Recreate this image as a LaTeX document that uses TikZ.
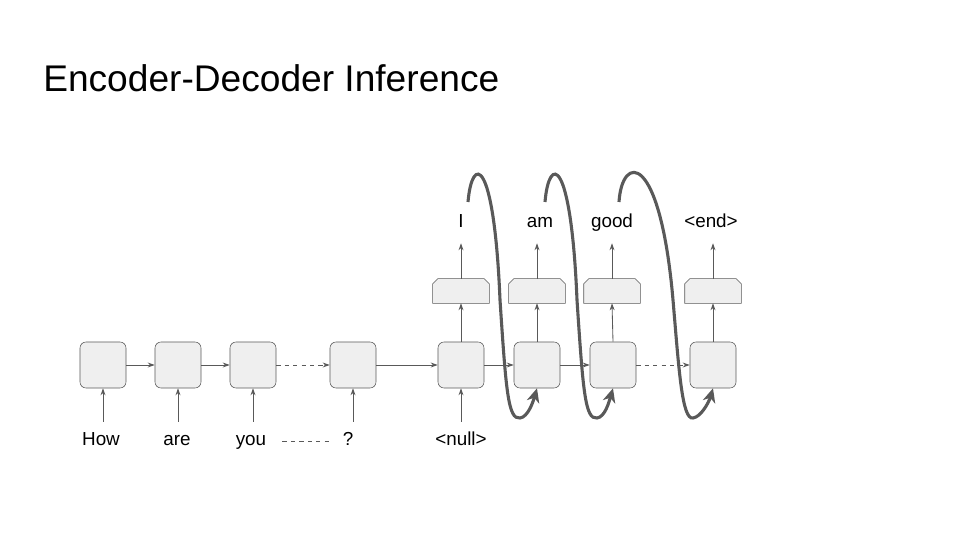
\documentclass[tikz,border=0pt]{standalone}
\usepackage{fontspec}
\setmainfont{Liberation Sans}
\usetikzlibrary{arrows.meta,calc}
\definecolor{cellfill}{HTML}{EFEFEF}
\definecolor{linegray}{HTML}{595959}

\begin{document}
\begin{tikzpicture}[x=0.025cm,y=0.025cm,
  cell/.style={draw=linegray,fill=cellfill,rounded corners=0.15cm,minimum size=1.15cm,inner sep=0pt},
  outbox/.style={minimum width=1.4cm,minimum height=0.6cm,inner sep=0pt},
  word/.style={font=\fontsize{13.4pt}{15pt}\selectfont,anchor=base,text height=0.35cm,text depth=0.15cm,inner xsep=0.1cm,inner ysep=0.225cm},
  flow/.style={draw=linegray,line width=0.6pt,-{Stealth[length=5pt,width=3.5pt]}},
  feedback/.style={draw=linegray,line width=2.2pt,-{Stealth[length=10pt,width=9pt,inset=3pt]}}]
%
\useasboundingbox (0,0) rectangle (960,540);
\node[anchor=base west,inner sep=0pt,font=\fontsize{26.4pt}{30pt}\selectfont] (title) at (43,448) {Encoder-Decoder Inference};
%
% encoder
  \node[cell] (enc1) at (103,175) {};
  \node[cell] (enc2) at (178,175) {};
  \node[cell] (enc3) at (253,175) {};
  \node[cell] (enc4) at (353,175) {};
  \node[word] (how) at (101,95) {How};
  \node[word] (are) at (177,95) {are};
  \node[word] (you) at (251,95) {you};
  \node[word] (qm)  at (348,95) {?};
%
% decoder
  \node[cell] (dec1) at (461,175) {};
  \node[cell] (dec2) at (537,175) {};
  \node[cell] (dec3) at (613,175) {};
  \node[cell] (dec4) at (713,175) {};
  \node[word] (null) at (461,95) {<null>};
  \node[outbox] (out1) at (461,249) {};
  \node[outbox] (out2) at (537,249) {};
  \node[outbox] (out3) at (612,249) {};
  \node[outbox] (out4) at (713,249) {};
  \foreach \i in {1,...,4}
    \draw[draw=linegray,fill=cellfill] (out\i.south west) -- ($(out\i.north west)+(0,-5)$) -- ($(out\i.north west)+(5,0)$)
      -- ($(out\i.north east)+(-5,0)$) -- ($(out\i.north east)+(0,-5)$) -- (out\i.south east) -- cycle;
  \node[word] (w1) at (461,312) {I};
  \node[word] (w2) at (540,312) {am};
  \node[word] (w3) at (612,312) {good};
  \node[word] (w4) at (711,312) {<end>};
%
  \foreach \a/\b in {how/enc1,are/enc2,you/enc3,qm/enc4,null/dec1}
    \draw[flow] (\a.north -| \b.south) -- (\b.south);
  \foreach \a/\b in {enc1/enc2,enc2/enc3,enc4/dec1,dec1/dec2,dec2/dec3}
    \draw[flow] (\a.east) -- (\b.west);
  \foreach \a/\b in {enc3/enc4,dec3/dec4}
    \draw[flow,dashed] (\a.east) -- (\b.west);
  \draw[draw=linegray,line width=0.6pt,dashed,shorten <=0.3cm,shorten >=0.15cm] (you.east) -- (qm.west);
  \foreach \i in {1,...,4} {
    \draw[flow] (dec\i.north) -- (out\i.south);
    \draw[flow] (out\i.north) -- (out\i.north |- w\i.south);
  }
%
% feeding each word back in
  \coordinate (s1) at (468,338);
  \coordinate (s2) at (545,338);
  \coordinate (s3) at (619,338);
  \draw[feedback] (s1) .. controls (472,385) and (494,385) .. (500,240)
    .. controls (506,150) and (508,120) .. (520,122)
    .. controls (528,123) and (533,138) .. (dec2.south);
  \draw[feedback] (s2) .. controls (549,385) and (571,385) .. (577,240)
    .. controls (583,150) and (585,120) .. (597,122)
    .. controls (605,123) and (609,138) .. (dec3.south);
  \draw[feedback] (s3) .. controls (622,386) and (660,390) .. (673,240)
    .. controls (679,170) and (682,120) .. (693,122)
    .. controls (701,123) and (709,138) .. (dec4.south);
\end{tikzpicture}
\end{document}
